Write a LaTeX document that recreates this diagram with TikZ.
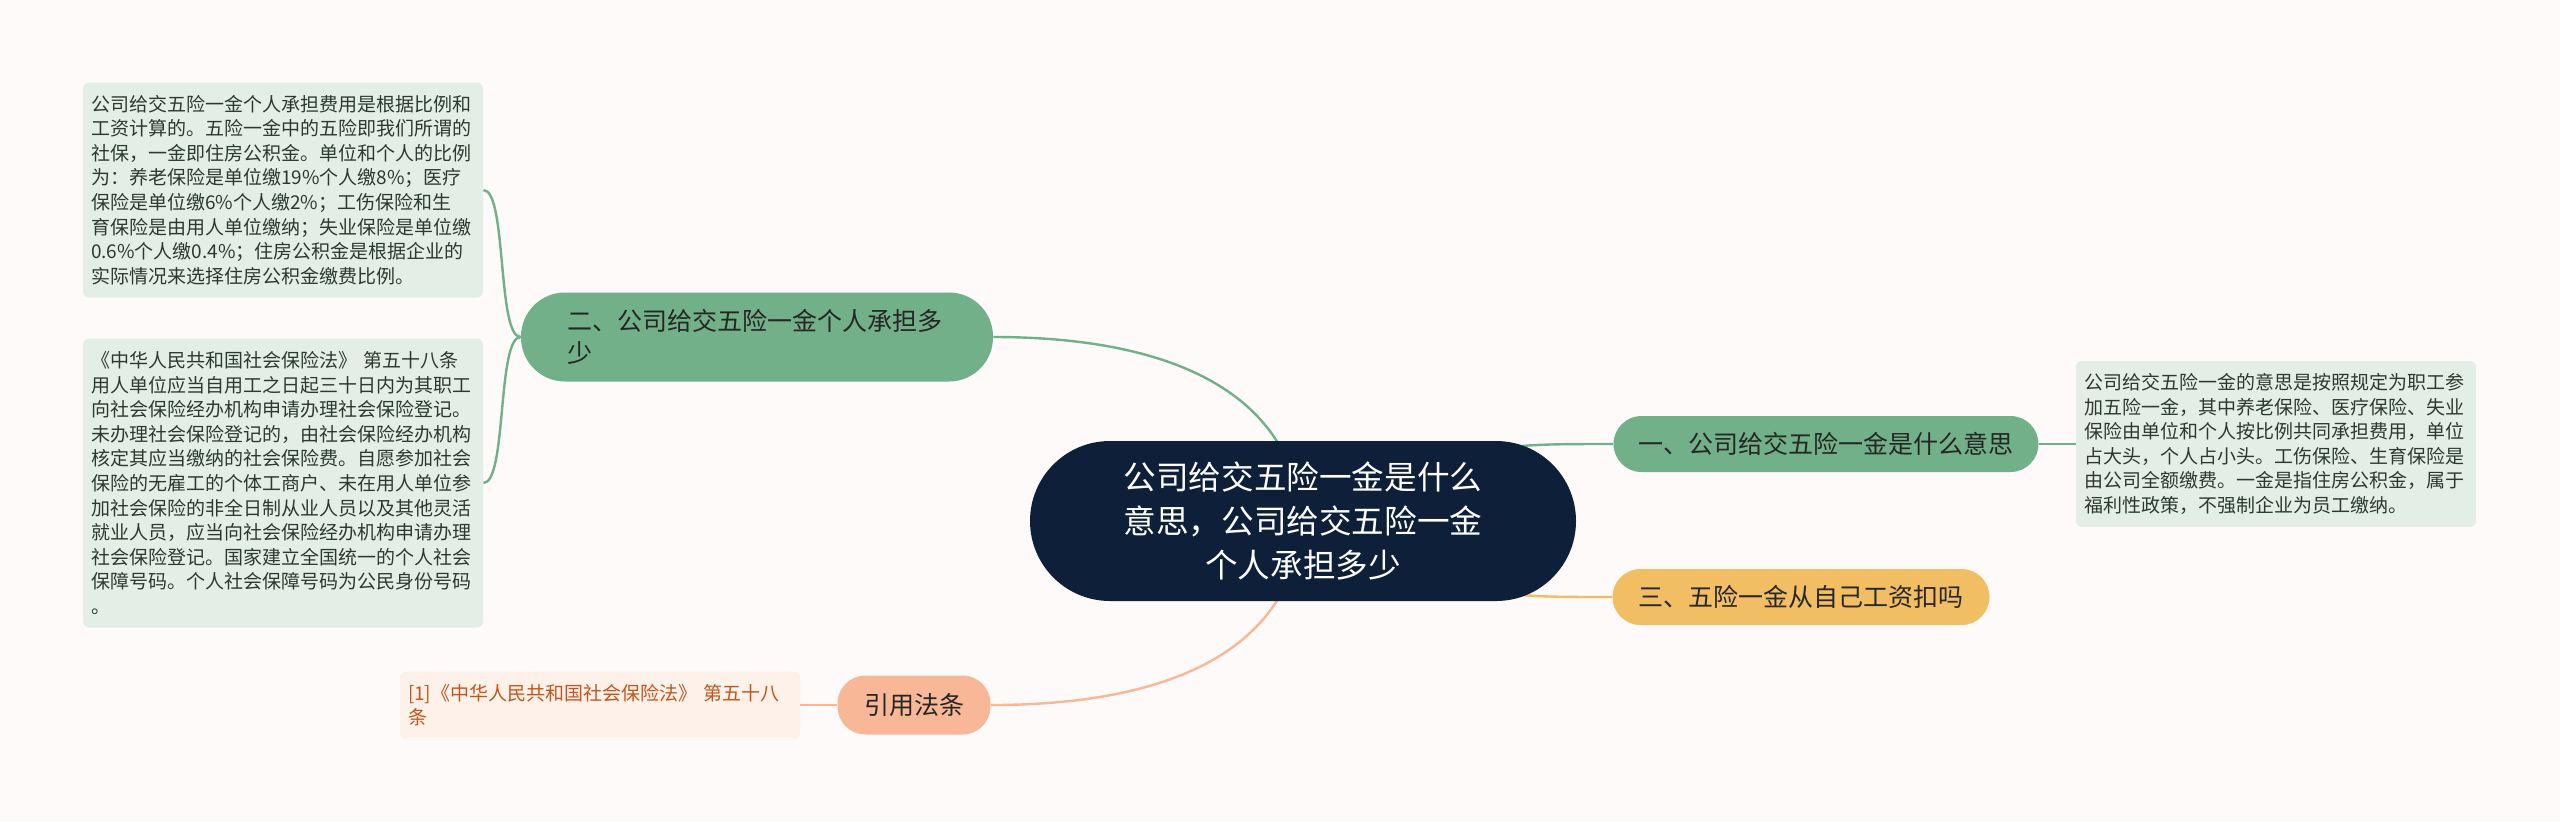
\documentclass[tikz,border=0pt]{standalone}
\usepackage{fontspec}
\setmainfont{Noto Sans CJK SC}
\usetikzlibrary{backgrounds}
\definecolor{colfondo}{HTML}{FDFAF9}
\definecolor{colraiz}{HTML}{0E1F3A}
\definecolor{colverde}{HTML}{71B088}
\definecolor{colhoja}{HTML}{E3EFE6}
\definecolor{colamarillo}{HTML}{F1BE63}
\definecolor{colsalmon}{HTML}{F8B797}
\definecolor{colhojaref}{HTML}{FDF1EA}
\definecolor{coltextoref}{HTML}{C4541C}
\definecolor{coltexto}{HTML}{2B3A30}
\tikzstyle{raiz}=[fill=colraiz, text=white, rounded corners=40pt, minimum width=273pt, minimum height=80pt, align=center, font=\fontsize{16.3}{22}\selectfont]
\tikzstyle{rama}=[rounded corners=14pt, minimum height=28pt, text=black!85, font=\fontsize{12.5}{16}\selectfont]
\tikzstyle{hoja}=[fill=colhoja, rounded corners=3pt, text width=192pt, inner xsep=4pt, align=left, text=coltexto, font=\fontsize{9.5}{12.3}\selectfont]

\begin{document}
\begin{tikzpicture}[x=0.5pt, y=-0.5pt]
        \useasboundingbox (0,0) rectangle (2560,821);
        %% Nodo central
        \node[raiz] (c) at (1303, 521) {公司给交五险一金是什么\\意思，公司给交五险一金\\个人承担多少};

        %% Ramas
        \node[rama, fill=colverde, minimum width=212.5pt] (r_1) at (1826, 444) {一、公司给交五险一金是什么意思};
        \node[rama, fill=colverde, minimum width=236pt, minimum height=44.5pt, rounded corners=22pt, text width=190pt, align=left] (r_2) at (757, 337) {二、公司给交五险一金个人承担多\\少};
        \node[rama, fill=colamarillo, minimum width=188.5pt] (r_3) at (1801, 597) {三、五险一金从自己工资扣吗};
        \node[rama, fill=colsalmon, minimum width=76.5pt, minimum height=29.5pt] (r_4) at (914, 705) {引用法条};

        %% Hojas
        % Rama 1
        \node[hoja, minimum height=83pt] (h_1) at (2276, 444) {公司给交五险一金的意思是按照规定为职工参\\加五险一金，其中养老保险、医疗保险、失业\\保险由单位和个人按比例共同承担费用，单位\\占大头，个人占小头。工伤保险、生育保险是\\由公司全额缴费。一金是指住房公积金，属于\\福利性政策，不强制企业为员工缴纳。};
        % Rama 2
        \node[hoja, minimum height=107.5pt] (h_2) at (283, 190) {公司给交五险一金个人承担费用是根据比例和\\工资计算的。五险一金中的五险即我们所谓的\\社保，一金即住房公积金。单位和个人的比例\\为：养老保险是单位缴19\%个人缴8\%；医疗\\保险是单位缴6\%个人缴2\%；工伤保险和生\\育保险是由用人单位缴纳；失业保险是单位缴\\0.6\%个人缴0.4\%；住房公积金是根据企业的\\实际情况来选择住房公积金缴费比例。};
        \node[hoja, minimum height=144.5pt] (h_3) at (283, 483) {《中华人民共和国社会保险法》 第五十八条\\用人单位应当自用工之日起三十日内为其职工\\向社会保险经办机构申请办理社会保险登记。\\未办理社会保险登记的，由社会保险经办机构\\核定其应当缴纳的社会保险费。自愿参加社会\\保险的无雇工的个体工商户、未在用人单位参\\加社会保险的非全日制从业人员以及其他灵活\\就业人员，应当向社会保险经办机构申请办理\\社会保险登记。国家建立全国统一的个人社会\\保障号码。个人社会保障号码为公民身份号码\\。};
        % Rama 4
        \node[hoja, fill=colhojaref, text=coltextoref, minimum height=33.5pt] (h_4) at (600, 705) {[1]《中华人民共和国社会保险法》 第五十八\\条};

        %% Conexiones
        \begin{scope}[on background layer]
        \fill[colfondo] (0,0) rectangle (2560,821);
        \draw[line width=1.2pt, colverde] (c.center) .. controls (1480,444) .. (r_1.west);
        \draw[line width=1.2pt, colverde] (c.center) .. controls (1290,380) and (1150,337) .. (r_2.east);
        \draw[line width=1.2pt, colamarillo] (c.center) .. controls (1480,597) .. (r_3.west);
        \draw[line width=1.2pt, colsalmon] (c.center) .. controls (1290,662) and (1150,705) .. (r_4.east);
        \draw[line width=1.2pt, colverde] (r_1.east) -- (h_1.west);
        \draw[line width=1.2pt, colverde] (r_2.west) .. controls (497,337) and (507,190) .. (h_2.east);
        \draw[line width=1.2pt, colverde] (r_2.west) .. controls (497,337) and (507,483) .. (h_3.east);
        \draw[line width=1.2pt, colsalmon] (r_4.west) -- (h_4.east);
        \end{scope}
\end{tikzpicture}
\end{document}
